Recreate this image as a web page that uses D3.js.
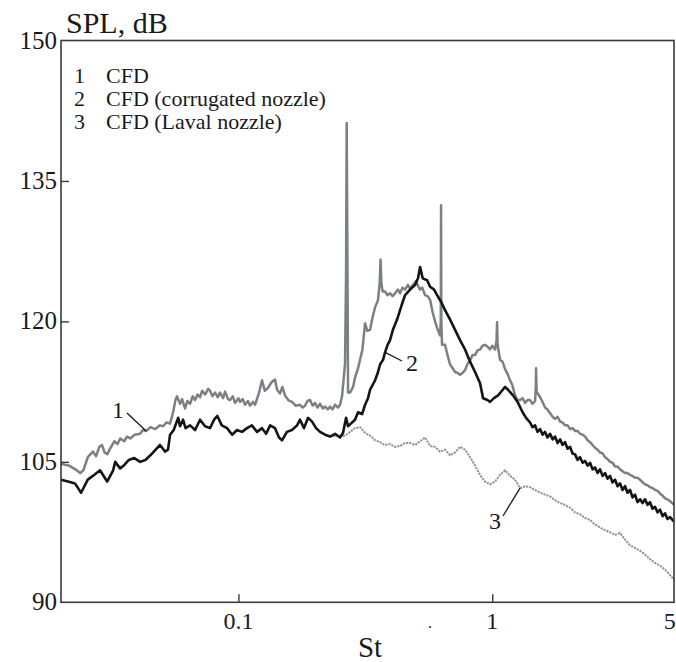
<!DOCTYPE html>
<html>
<head>
<meta charset="utf-8">
<script src="https://cdn.jsdelivr.net/npm/d3@7"></script>
<style>
  html, body { margin: 0; padding: 0; background: #fff; }
</style>
</head>
<body>
<svg id="chart" width="676" height="662"></svg>
<script>
// Strouhal number axis and SPL axis
const xTicks = [0.1, 1, 5];
const xTickLabels = ["0.1", "1", "5"];
const yTicks = [90, 105, 120, 135, 150];

const legendNumbers = ["1", "2", "3"];
const legendItems = ["CFD", "CFD (corrugated nozzle)", "CFD (Laval nozzle)"];

// Curve 1: CFD
const st1 = [0.0200,0.0215,0.0228,0.0238,0.0245,0.0255,0.0267,0.0275,0.0283,0.0290,0.0297,0.0304,0.0315,0.0325,0.0334,0.0342,0.0355,0.0364,0.0375,0.0390,0.0410,0.0420,0.0433,0.0450,0.0470,0.0491,0.0505,0.0520,0.0538,0.0553,0.0565,0.0573,0.0589,0.0600,0.0616,0.0630,0.0645,0.0660,0.0675,0.0690,0.0706,0.0720,0.0740,0.0760,0.0773,0.0790,0.0809,0.0830,0.0846,0.0870,0.0886,0.0910,0.0927,0.0950,0.0970,0.1000,0.1015,0.1040,0.1062,0.1090,0.1111,0.1140,0.1163,0.1200,0.1239,0.1270,0.1308,0.1350,0.1394,0.1420,0.1458,0.1490,0.1526,0.1570,0.1626,0.1680,0.1748,0.1790,0.1830,0.1870,0.1915,0.1960,0.2004,0.2050,0.2097,0.2150,0.2194,0.2250,0.2296,0.2350,0.2403,0.2470,0.2514,0.2560,0.2600,0.2630,0.2655,0.2670,0.2690,0.2703,0.2752,0.2830,0.2880,0.2960,0.3014,0.3080,0.3154,0.3220,0.3301,0.3380,0.3454,0.3548,0.3600,0.3630,0.3660,0.3700,0.3782,0.3860,0.3957,0.4050,0.4141,0.4250,0.4333,0.4430,0.4535,0.4650,0.4745,0.4875,0.5000,0.5100,0.5196,0.5300,0.5437,0.5560,0.5689,0.5820,0.5953,0.6062,0.6229,0.6270,0.6285,0.6300,0.6342,0.6517,0.6650,0.6820,0.6980,0.7136,0.7300,0.7467,0.7640,0.7814,0.8000,0.8176,0.8356,0.8556,0.8750,0.8953,0.9160,0.9368,0.9580,0.9802,1.0000,1.0257,1.0400,1.0445,1.0500,1.0733,1.0980,1.1231,1.1490,1.1752,1.2000,1.2297,1.2580,1.2870,1.3170,1.3467,1.3780,1.4093,1.4400,1.4747,1.4840,1.4881,1.4950,1.5431,1.5780,1.6148,1.6500,1.6898,1.7300,1.7679,1.8090,1.8500,1.8920,1.9358,1.9800,2.0258,2.0720,2.1198,2.1680,2.2182,2.2700,2.3212,2.3750,2.4289,2.4840,2.5410,2.5990,2.6587,2.7200,2.7822,2.8460,2.9113,2.9780,3.0465,3.1170,3.1878,3.2600,3.3357,3.4100,3.4904,3.5700,3.6524,3.7350,3.8219,3.9100,3.9994,4.0900,4.1850,4.2800,4.3791,4.4800,4.5823,4.6900,4.7950,4.9000,5.0175,5.2028];
const spl1 = [104.8,104.6,104.2,103.8,104.1,105.5,106.1,105.6,106.6,106.8,106.0,105.8,106.6,107.2,106.9,107.5,107.2,107.7,107.5,107.9,108.0,108.4,108.3,108.7,108.5,108.9,108.8,109.2,109.1,110.3,111.6,112.0,111.2,111.7,110.7,111.5,111.2,112.0,111.6,112.2,111.9,112.6,112.2,112.8,112.6,112.0,112.4,111.9,112.4,111.8,112.5,111.7,111.6,112.0,111.3,111.8,111.4,111.7,111.1,111.5,111.0,111.4,111.1,112.2,113.7,112.6,112.9,113.5,113.8,112.7,112.3,113.0,112.1,111.6,111.4,111.0,111.1,110.8,111.0,111.5,111.6,111.0,111.3,110.8,111.2,110.7,110.9,110.6,110.9,110.6,111.1,110.8,111.1,112.0,114.0,115.5,125.0,141.2,125.0,112.4,112.4,113.0,114.0,115.0,115.9,117.0,119.8,119.0,119.1,120.5,121.5,122.3,124.0,126.6,124.0,123.2,123.2,122.8,123.0,122.7,123.0,123.4,123.0,123.6,123.4,123.9,123.5,123.9,124.3,123.8,123.4,123.6,122.8,122.7,122.3,121.0,120.0,119.3,118.5,120.0,132.4,120.0,117.5,117.5,116.5,115.4,115.0,114.6,114.5,114.3,114.5,114.8,115.5,115.8,116.4,116.4,116.9,117.0,117.4,117.5,117.3,117.0,117.4,117.0,118.0,119.9,117.5,115.9,115.7,114.9,114.4,113.7,113.2,112.1,111.6,111.6,111.8,111.3,111.6,111.6,111.2,111.5,112.8,115.0,112.5,111.9,111.4,110.8,110.6,110.2,109.8,109.6,109.8,109.3,109.2,108.9,108.9,108.5,108.6,108.3,108.3,108.0,107.9,107.7,107.3,107.1,106.8,106.5,106.3,106.0,105.9,105.5,105.3,105.0,104.9,104.5,104.5,104.2,104.0,103.8,103.8,103.6,103.5,103.3,103.3,103.1,102.8,102.6,102.5,102.3,102.2,102.0,101.9,101.6,101.4,101.1,101.0,100.8,100.4];

// Curve 2: CFD (corrugated nozzle)
const st2 = [0.0200,0.0213,0.0227,0.0240,0.0255,0.0270,0.0285,0.0304,0.0321,0.0327,0.0342,0.0356,0.0370,0.0389,0.0410,0.0430,0.0450,0.0472,0.0491,0.0514,0.0528,0.0538,0.0556,0.0579,0.0589,0.0605,0.0619,0.0645,0.0675,0.0706,0.0739,0.0773,0.0802,0.0826,0.0860,0.0902,0.0945,0.0987,0.1033,0.1081,0.1130,0.1184,0.1239,0.1286,0.1333,0.1394,0.1445,0.1485,0.1553,0.1626,0.1702,0.1748,0.1813,0.1881,0.1950,0.2023,0.2097,0.2194,0.2296,0.2403,0.2514,0.2584,0.2655,0.2703,0.2752,0.2880,0.2960,0.3070,0.3154,0.3240,0.3301,0.3454,0.3548,0.3614,0.3714,0.3782,0.3870,0.3957,0.4060,0.4217,0.4333,0.4440,0.4535,0.4745,0.4965,0.5100,0.5196,0.5320,0.5540,0.5689,0.5900,0.6062,0.6285,0.6517,0.6820,0.7136,0.7467,0.7814,0.8176,0.8556,0.8953,0.9200,0.9580,0.9802,1.0160,1.0541,1.1000,1.1231,1.1540,1.2080,1.2580,1.3170,1.3590,1.4093,1.4400,1.4747,1.5080,1.5431,1.5780,1.6148,1.6500,1.6898,1.7300,1.7679,1.8090,1.8500,1.8920,1.9358,1.9800,2.0258,2.0720,2.1198,2.1680,2.2182,2.2700,2.3212,2.3750,2.4289,2.4840,2.5410,2.5990,2.6587,2.7200,2.7822,2.8460,2.9113,2.9780,3.0465,3.1170,3.1878,3.2600,3.3357,3.4100,3.4904,3.5700,3.6524,3.7350,3.8219,3.9100,3.9994,4.0900,4.1850,4.2800,4.3791,4.4800,4.5823,4.6900,4.7950,4.9000,5.0175,5.2028];
const spl2 = [103.1,102.9,102.7,101.7,103.1,103.6,104.1,102.9,104.1,105.0,104.3,104.7,105.2,105.4,105.0,105.2,105.7,106.3,106.8,106.1,106.3,107.9,108.4,109.7,108.8,109.5,108.6,108.9,108.4,109.5,108.8,108.6,109.5,109.9,108.9,108.6,107.9,108.4,108.2,108.6,108.9,108.2,108.6,108.0,108.9,108.6,107.6,107.3,108.2,108.4,108.9,109.5,108.6,109.7,109.3,108.6,108.2,107.9,107.7,108.0,107.6,108.1,109.7,108.8,109.0,109.5,110.3,110.1,111.1,111.8,112.7,113.7,114.6,115.4,115.9,116.7,117.5,118.0,119.1,120.2,121.2,122.1,122.8,123.4,123.9,124.6,125.8,124.6,124.4,123.7,123.4,122.8,122.1,121.2,120.2,119.1,118.0,117.0,115.7,114.6,113.4,111.8,111.6,111.4,111.8,112.1,112.7,113.0,112.7,112.1,111.4,110.3,109.7,109.2,108.7,108.9,108.2,108.5,107.9,108.2,107.6,108.0,107.4,107.7,107.0,107.4,106.8,107.1,106.4,106.6,105.9,105.8,105.2,105.5,104.9,105.1,104.6,104.9,104.2,104.4,103.8,104.2,103.5,103.8,103.2,103.5,102.8,103.1,102.4,102.7,102.0,102.4,101.7,102.0,101.2,101.5,100.7,101.0,100.6,101.0,100.4,100.7,100.0,100.2,99.6,99.9,99.2,99.5,98.9,99.1,98.6];

// Curve 3: CFD (Laval nozzle)
const st3 = [0.2296,0.2514,0.2630,0.2752,0.2880,0.3014,0.3154,0.3301,0.3454,0.3614,0.3782,0.3957,0.4141,0.4333,0.4535,0.4745,0.4965,0.5196,0.5437,0.5689,0.5953,0.6229,0.6517,0.6820,0.7136,0.7467,0.7814,0.8176,0.8556,0.8953,0.9368,0.9802,1.0257,1.0733,1.1231,1.1752,1.2297,1.2870,1.3467,1.4093,1.4747,1.5431,1.6148,1.6898,1.7679,1.8500,1.9358,2.0258,2.1198,2.2182,2.3212,2.4289,2.5410,2.6587,2.7822,2.9113,3.0465,3.1878,3.3357,3.4904,3.6524,3.8219,3.9994,4.1850,4.3791,4.5823,4.7950,5.0175,5.2028];
const spl3 = [107.7,107.8,107.8,108.2,108.6,108.7,108.1,107.8,107.3,107.1,106.8,106.9,106.6,106.7,107.0,107.0,106.8,107.2,107.6,106.7,106.6,106.1,106.3,105.7,106.0,106.6,106.3,105.5,104.6,103.6,102.9,102.6,102.9,103.6,104.1,103.5,103.1,102.2,102.4,102.3,102.0,101.7,101.5,101.3,100.9,100.6,100.4,100.1,99.6,99.4,99.0,98.8,98.3,98.0,97.7,97.5,97.2,97.4,96.7,96.1,95.8,95.5,95.1,94.6,94.2,93.9,93.5,92.9,92.4];

const FONT = "'Liberation Serif', 'Times New Roman', serif";
const plot = { left: 61, right: 674, top: 40.5, bottom: 602.3 };

const svg = d3.select("#chart");

const x = d3.scaleLog().domain([0.02, 5.2]).range([plot.left, plot.right]);
const y = d3.scaleLinear().domain([90, 150]).range([plot.bottom, plot.top]);

const line = d3.line().x(d => x(d[0])).y(d => y(d[1]));
const zip = (a, b) => a.map((v, i) => [v, b[i]]);

const curves = svg.append("g");
// Laval nozzle spectrum: light, ragged line drawn underneath
curves.append("path")
  .attr("d", line(zip(st3, spl3)))
  .attr("fill", "none")
  .attr("stroke", "#8f9296")
  .attr("stroke-width", 2)
  .attr("stroke-dasharray", "2.2,1");
curves.append("path")
  .attr("d", line(zip(st1, spl1)))
  .attr("fill", "none")
  .attr("stroke", "#7c8085")
  .attr("stroke-width", 2.5)
  .attr("stroke-linejoin", "round");
curves.append("path")
  .attr("d", line(zip(st2, spl2)))
  .attr("fill", "none")
  .attr("stroke", "#141414")
  .attr("stroke-width", 2.6)
  .attr("stroke-linejoin", "round");

// Frame
svg.append("rect")
  .attr("x", plot.left).attr("y", plot.top)
  .attr("width", plot.right - plot.left).attr("height", plot.bottom - plot.top)
  .attr("fill", "none").attr("stroke", "#3a3a3a").attr("stroke-width", 1.6);

// Axes with inward ticks
const xAxis = d3.axisBottom(x).tickValues(xTicks.slice(0, 2)).tickSize(-8).tickFormat("");
svg.append("g").attr("transform", `translate(0,${plot.bottom})`).call(xAxis)
  .call(g => g.select(".domain").remove())
  .call(g => g.selectAll("line").attr("stroke", "#3a3a3a").attr("stroke-width", 1.4));
const yAxis = d3.axisLeft(y).tickValues(yTicks.slice(1, 4)).tickSize(-8).tickFormat("");
svg.append("g").attr("transform", `translate(${plot.left},0)`).call(yAxis)
  .call(g => g.select(".domain").remove())
  .call(g => g.selectAll("line").attr("stroke", "#3a3a3a").attr("stroke-width", 1.4));

const txt = (sel) => sel.attr("font-family", FONT).attr("fill", "#1a1a1a");

// Tick labels
svg.append("g").selectAll("text").data(xTicks).join("text")
  .call(txt)
  .attr("x", d => x(d)).attr("y", 629)
  .attr("text-anchor", "middle").attr("font-size", 24)
  .text((d, i) => xTickLabels[i]);
svg.append("g").selectAll("text").data(yTicks).join("text")
  .call(txt)
  .attr("x", 57).attr("y", d => y(d) + 8)
  .attr("text-anchor", "end").attr("font-size", 25)
  .text(d => d);

// Axis titles
svg.append("text").call(txt).attr("x", 66).attr("y", 33).attr("font-size", 30).text("SPL, dB");
svg.append("text").call(txt).attr("x", 370).attr("y", 657).attr("text-anchor", "middle").attr("font-size", 29).text("St");
svg.append("text").call(txt).attr("x", 430).attr("y", 628).attr("text-anchor", "middle").attr("font-size", 16).text(".");

// Legend
const lg = svg.append("g");
lg.selectAll("text.num").data(legendNumbers).join("text")
  .attr("class", "num").call(txt)
  .attr("x", 74).attr("y", (d, i) => 83 + i * 23)
  .attr("font-size", 22).text(d => d);
lg.selectAll("text.lab").data(legendItems).join("text")
  .attr("class", "lab").call(txt)
  .attr("x", 106).attr("y", (d, i) => 83 + i * 23)
  .attr("font-size", 22).text(d => d);

// Curve labels with leader lines
const callouts = [
  { t: "1", tx: 118, ty: 418, x1: 127, y1: 413, st: 0.0433, spl: 108.3 },
  { t: "2", tx: 412, ty: 371, x1: 402, y1: 361, st: 0.3782, spl: 116.7 },
  { t: "3", tx: 495, ty: 529, x1: 503, y1: 516, st: 1.2870, spl: 102.2 }
];
const cg = svg.append("g");
cg.selectAll("line").data(callouts).join("line")
  .attr("x1", d => d.x1).attr("y1", d => d.y1)
  .attr("x2", d => x(d.st)).attr("y2", d => y(d.spl))
  .attr("stroke", "#1a1a1a").attr("stroke-width", 1.3);
cg.selectAll("text").data(callouts).join("text")
  .call(txt)
  .attr("x", d => d.tx).attr("y", d => d.ty)
  .attr("text-anchor", "middle").attr("font-size", 24)
  .text(d => d.t);
</script>
</body>
</html>
